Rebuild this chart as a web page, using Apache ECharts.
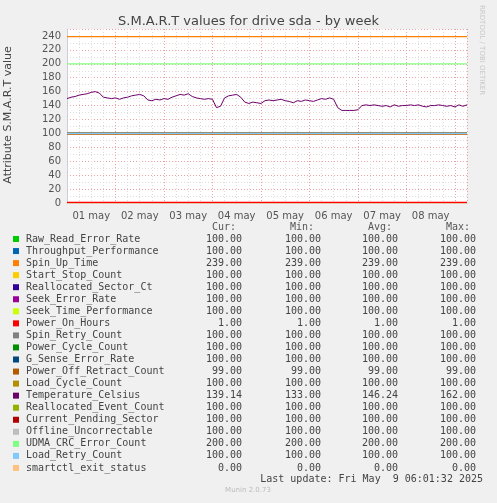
<!DOCTYPE html>
<html><head><meta charset="utf-8">
<script src="https://cdn.jsdelivr.net/npm/echarts@6/dist/echarts.min.js"></script>
<style>html,body{margin:0;padding:0;background:#f0f0f0}#c{width:497px;height:503px}</style>
</head><body><div id="c"></div>
<script>
const names = ["Raw_Read_Error_Rate","Throughput_Performance","Spin_Up_Time","Start_Stop_Count","Reallocated_Sector_Ct","Seek_Error_Rate","Seek_Time_Performance","Power_On_Hours","Spin_Retry_Count","Power_Cycle_Count","G_Sense_Error_Rate","Power_Off_Retract_Count","Load_Cycle_Count","Temperature_Celsius","Reallocated_Event_Count","Current_Pending_Sector","Offline_Uncorrectable","UDMA_CRC_Error_Count","Load_Retry_Count","smartctl_exit_status"];
const colors = ["#00cc00","#0066b3","#ff8000","#ffcc00","#330099","#990099","#ccff00","#ff0000","#808080","#008f00","#00487d","#b35a00","#b38f00","#6b006b","#8fb300","#b30000","#bebebe","#80ff80","#80c9ff","#ffc080"];
const curV = [100,100,239,100,100,100,100,1,100,100,100,99,100,139.14,100,100,100,200,100,0];
const minV = [100,100,239,100,100,100,100,1,100,100,100,99,100,133,100,100,100,200,100,0];
const avgV = [100,100,239,100,100,100,100,1,100,100,100,99,100,146.24,100,100,100,200,100,0];
const maxV = [100,100,239,100,100,100,100,1,100,100,100,99,100,162,100,100,100,200,100,0];
const tempIdx = 13;
// temperature every 2 hours from May 1 00:00
const temperature = [150,152,153,155,156,157,159,160,158,152,151,150,151,149,151,152,154,155,156,154,148,147,149,148,150,149,152,154,156,155,157,153,151,150,149,150,149,137,139,151,154,155,156,152,145,143,145,144,143,147,148,147,148,149,147,146,144,147,146,148,147,146,148,150,149,151,149,137,133,133,133,133,134,140,141,140,141,140,139,140,138,141,139,140,140,141,140,141,139,138,140,140,141,140,139,140,138,141,139,141];
const dayLabels = ["01 may","02 may","03 may","04 may","05 may","06 may","07 may","08 may"];
const xMax = 198;

const series = names.map((n,i)=>{
  let data;
  if(i===tempIdx) data = temperature.map((v,k)=>[k*2,v]);
  else data = [[0,curV[i]],[xMax,curV[i]]];
  return {type:'line',name:n,data,showSymbol:false,symbol:'none',animation:false,
    z: i===19 ? 1 : 2,
    lineStyle:{color:colors[i],width:i===tempIdx?1:1.3},xAxisIndex:0,yAxisIndex:0};
});

const mono = '"DejaVu Sans Mono", monospace';
const g = [];
const cols = [{x:242,h:"Cur:",hx:236,arr:curV},{x:321,h:"Min:",hx:314,arr:minV},{x:398,h:"Avg:",hx:392,arr:avgV},{x:476,h:"Max:",hx:470,arr:maxV}];
cols.forEach(c=>g.push({type:'text',x:c.hx,y:222,style:{text:c.h,font:'10px '+mono,fill:'#555',align:'right'}}));
names.forEach((n,i)=>{
  const y = 234 + i*12.05;
  g.push({type:'rect',shape:{x:13,y:y+2,width:6,height:6},style:{fill:colors[i]}});
  g.push({type:'text',x:26,y:y,style:{text:n,font:'10px '+mono,fill:'#444'}});
  cols.forEach(c=>g.push({type:'text',x:c.x,y:y,style:{text:c.arr[i].toFixed(2),font:'10px '+mono,fill:'#444',align:'right'}}));
});
g.push({type:'text',x:483,y:474,style:{text:'Last update: Fri May  9 06:01:32 2025',font:'10px '+mono,fill:'#444',align:'right'}});
g.push({type:'text',x:248,y:487,style:{text:'Munin 2.0.73',font:'7px "DejaVu Sans"',fill:'#bbb',align:'center'}});
g.push({type:'text',x:485,y:5,rotation:-Math.PI/2,style:{text:'RRDTOOL / TOBI OETIKER',font:'7px "DejaVu Sans"',fill:'#c8c8c8'}});
g.push({type:'text',x:3,y:115,rotation:Math.PI/2,style:{text:'Attribute S.M.A.R.T value',font:'11px "DejaVu Sans"',fill:'#444',align:'center',verticalAlign:'top'}});

const chart = echarts.init(document.getElementById('c'),null,{renderer:'canvas'});
chart.setOption({
  backgroundColor:'#f0f0f0',
  animation:false,
  title:{text:'S.M.A.R.T values for drive sda - by week',left:'center',top:10,textStyle:{fontFamily:'DejaVu Sans',fontSize:13,fontWeight:'normal',color:'#444'}},
  grid:{left:67,right:30,top:29,bottom:300,show:true,backgroundColor:'#fff',borderWidth:0},
  xAxis:[
    {type:'value',min:0,max:xMax,interval:12,
     axisLine:{show:false},axisTick:{show:false},splitLine:{show:false},
     axisLabel:{fontFamily:'DejaVu Sans',fontSize:10,color:'#555',showMinLabel:false,showMaxLabel:false,
       formatter:v=>(v%24===12)?dayLabels[(v-12)/24]||'':''}},
    {type:'value',min:0,max:xMax,interval:24,position:'bottom',
     axisLine:{show:true,lineStyle:{color:'#ccd'}},axisTick:{show:false},axisLabel:{show:false},
     splitLine:{show:true,lineStyle:{color:'#f0a0a0',type:[1,2]}},
     minorTick:{show:false,splitNumber:4},minorSplitLine:{show:true,lineStyle:{color:'#ddd',type:[1,2]}}}
  ],
  yAxis:{type:'value',min:0,max:250,interval:20,
    axisLine:{show:true,lineStyle:{color:'#ccd'}},axisTick:{show:false},
    axisLabel:{fontFamily:'DejaVu Sans',fontSize:10,color:'#555',showMaxLabel:false,margin:6},
    splitLine:{show:true,lineStyle:{color:'#f0a0a0',type:[1,2]}},
    minorTick:{show:false,splitNumber:2},minorSplitLine:{show:true,lineStyle:{color:'#ddd',type:[1,2]}}},
  series,
  graphic:g
});
</script></body></html>
